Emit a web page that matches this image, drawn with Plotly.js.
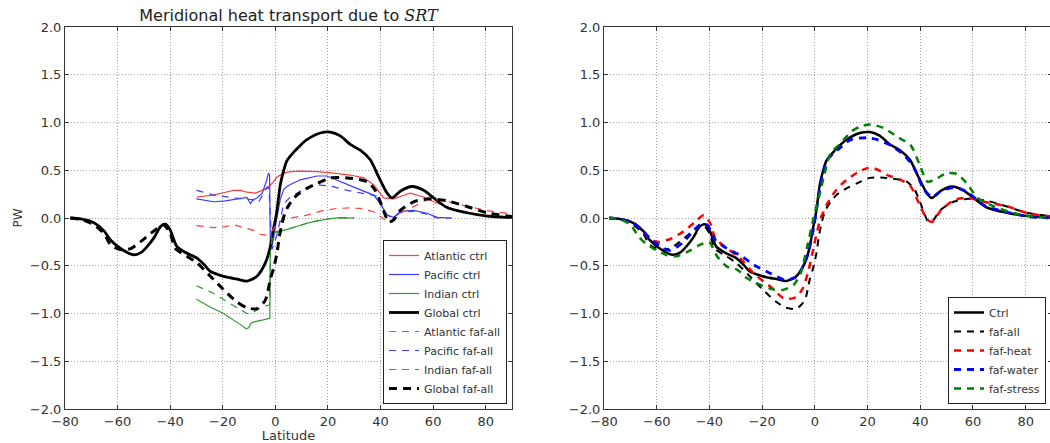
<!DOCTYPE html>
<html>
<head>
<meta charset="utf-8">
<script src="https://cdn.plot.ly/plotly-3.0.1.min.js"></script>
<style>
  html, body { margin: 0; padding: 0; overflow: hidden; background: #fff; }
  #chart { width: 1052px; height: 443px; }
</style>
</head>
<body>
<div id="chart"></div>
<script>
// ---------------- data ----------------
const globalCtrlLat = [-78,-74,-69,-65,-62.7,-58.3,-54,-51,-48.8,-46,-43.7,-41.8,-40,-37.4,-33.6,-29.8,-27,-24.7,-21,-18.4,-14.5,-10.8,-7,-3.8,-1.9,-0.8,0,0.6,1.9,3.2,4.4,7,9.5,12,17.1,20.9,24.7,28.5,32.3,36.1,39.3,42.5,44.4,47.5,52,56.4,60.2,65.3,72.9,80.5,90];
const globalCtrlPW  = [0,-0.01,-0.05,-0.14,-0.23,-0.33,-0.385,-0.36,-0.30,-0.2,-0.09,-0.065,-0.125,-0.30,-0.37,-0.42,-0.49,-0.56,-0.60,-0.62,-0.64,-0.66,-0.61,-0.47,-0.30,-0.12,-0.02,0.08,0.35,0.50,0.60,0.69,0.76,0.82,0.89,0.90,0.86,0.77,0.71,0.61,0.43,0.26,0.21,0.28,0.33,0.29,0.21,0.11,0.055,0.02,0.003];

const globalFafLat = [-78,-74,-69,-65,-62.7,-59,-55,-51.3,-46.4,-42.6,-40,-38,-33.6,-29.8,-24.7,-19.7,-14.6,-10.8,-7,-3.8,-1.9,-0.6,0.6,1.5,2.5,3.5,4.4,6,8.2,12,15.8,20.9,27.3,34.9,38,40.6,43.1,45,47.5,52.6,57.7,65.3,72.9,80.5,90];
const globalFafPW  = [0,-0.015,-0.07,-0.17,-0.28,-0.33,-0.32,-0.25,-0.14,-0.07,-0.16,-0.32,-0.40,-0.47,-0.61,-0.75,-0.88,-0.94,-0.95,-0.86,-0.64,-0.52,-0.37,-0.2,-0.06,0.04,0.10,0.17,0.24,0.31,0.36,0.42,0.42,0.38,0.29,0.12,-0.04,-0.02,0.08,0.17,0.20,0.18,0.12,0.055,0.015];

const atlCtrlLat = [-30,-26,-23.4,-19,-15.8,-13.3,-10.8,-7.6,-5.7,-3.2,-1,0.6,3.2,5.7,9.5,15.8,22.2,28.5,33.6,37.4,41.2,45,48,51.3,56.4,60.2,65,70,80,90];
const atlCtrlPW  = [0.22,0.23,0.24,0.27,0.29,0.29,0.27,0.26,0.28,0.31,0.37,0.43,0.47,0.485,0.49,0.485,0.47,0.45,0.42,0.35,0.21,0.20,0.23,0.26,0.22,0.17,0.12,0.07,0.03,0.01];

const pacCtrlLat = [-30,-26,-23.4,-19,-15.8,-10.8,-9.5,-8.5,-7,-5,-3.5,-2.6,-2.2,-1.9,-1.2,-0.6,0.6,1.9,3.2,4.4,5.7,9.5,12,15.8,19.6,24.7,31,37.4,39.9,42.5,45,47.5,52.6,57.7,61.5,67];
const pacCtrlPW  = [0.20,0.18,0.17,0.18,0.195,0.215,0.15,0.19,0.21,0.26,0.38,0.47,0.45,-0.33,-0.28,-0.2,0.01,0.20,0.30,0.33,0.35,0.40,0.415,0.44,0.44,0.38,0.31,0.24,0.15,0.03,0.007,0.07,0.08,0.05,0.007,0.0];

const indCtrlLat = [-30,-25,-19.7,-15,-12,-11.2,-10.1,-9.5,-8.5,-5,-3.2,-2.1,-1.95,-1.5,0.6,3,5.7,9,12,15,18.4,21,24.7,27,30];
const indCtrlPW  = [-0.85,-0.93,-1.0,-1.08,-1.14,-1.16,-1.15,-1.11,-1.09,-1.07,-1.06,-1.05,-0.30,-0.18,-0.14,-0.13,-0.11,-0.08,-0.055,-0.035,-0.015,-0.005,0.003,0.002,0.0];

const atlFafLat = [-30,-23.4,-19,-15.8,-13.3,-8.2,-5.7,-3.2,-1.9,0.6,3,5.7,12,18.4,23.4,28,32.3,37.4,41.8,44.4,47.5,52.6,57.7,61.5,66,72,80,90];
const atlFafPW  = [-0.08,-0.10,-0.09,-0.07,-0.09,-0.13,-0.17,-0.18,-0.16,-0.06,-0.02,0.0,0.03,0.08,0.10,0.105,0.10,0.065,-0.02,-0.04,0.05,0.12,0.19,0.19,0.17,0.13,0.08,0.04];

const pacFafLat = [-30,-23.4,-15.8,-10,-8.2,-6.5,-5,-3.8,-3,-2.4,-1.3,0.6,1.9,3.2,5.7,9.5,12,15.8,20.9,27.3,32.3,38.7,40.5,42.5,45,47.5,52.6,57.7,61.5,67];
const pacFafPW  = [0.29,0.24,0.21,0.2,0.19,0.16,0.24,0.30,0.33,0.30,-0.33,-0.18,0.0,0.15,0.22,0.28,0.32,0.345,0.335,0.29,0.265,0.23,0.13,0.03,0.0,0.06,0.07,0.04,0.0,0.0];

const indFafLat = [-30,-23.4,-15.8,-12,-10.8,-9,-7,-5,-3.2,-2.2,-1.8,-1,0.6,3,5.7,12,18.4,24.7,30];
const indFafPW  = [-0.71,-0.79,-0.92,-0.98,-1.0,-1.0,-0.96,-0.93,-0.92,-0.91,-0.30,-0.20,-0.15,-0.13,-0.11,-0.055,-0.015,0.003,0.0];

const heatLat = [-78,-74,-69,-65,-62.5,-59.3,-54.9,-49.8,-45.4,-42.2,-39.7,-37.8,-33.3,-28.3,-23.2,-16.8,-11.8,-8,-4.8,-2.3,-0.4,0,2.2,3.4,4.7,7.2,10,13.6,17,19.9,22.4,25,27.5,32.6,36.4,39.6,42.8,44.6,47.8,52.9,58,64.3,73.2,80.8,90];
const heatPW  = [0,-0.01,-0.05,-0.14,-0.23,-0.25,-0.22,-0.14,-0.04,0.03,-0.055,-0.21,-0.32,-0.42,-0.58,-0.72,-0.84,-0.84,-0.75,-0.54,-0.30,-0.25,0.0,0.07,0.15,0.26,0.35,0.43,0.49,0.52,0.52,0.49,0.45,0.40,0.33,0.15,-0.02,-0.04,0.08,0.19,0.21,0.17,0.12,0.05,0.015];

const waterLat = [-78,-74,-69,-65,-62.7,-60,-54.9,-49.8,-46,-43.5,-40.9,-37.8,-33.3,-28.3,-23.2,-16.8,-11.1,-6.7,-2.9,-0.4,1,2,3.2,4.7,8.5,13.6,19.9,23.7,28.8,33.8,37.6,41.4,44.6,47.8,52.9,58,64.3,73.2,80.8,90];
const waterPW  = [0,-0.01,-0.05,-0.14,-0.21,-0.27,-0.34,-0.25,-0.13,-0.07,-0.07,-0.23,-0.32,-0.39,-0.49,-0.58,-0.65,-0.61,-0.40,-0.09,0.15,0.32,0.47,0.61,0.71,0.82,0.84,0.82,0.76,0.66,0.53,0.30,0.22,0.28,0.32,0.27,0.13,0.06,0.015,0.0];

const stressLat = [-78,-74,-70,-66.7,-64,-61.2,-56.1,-52.3,-47.3,-43.5,-40.5,-39.7,-37.1,-33.3,-29.5,-25.7,-20.6,-15.6,-11.8,-8,-5.4,-2.9,-0.4,1,2.2,3.4,6,9.8,13.6,17.4,21.2,26.3,31.3,36.4,39.6,42.8,45.3,50.3,54.1,58,61.8,68.1,75.7,83.3,90];
const stressPW  = [0,-0.01,-0.07,-0.20,-0.27,-0.32,-0.39,-0.40,-0.34,-0.28,-0.25,-0.26,-0.40,-0.51,-0.54,-0.63,-0.70,-0.75,-0.75,-0.70,-0.58,-0.30,0.01,0.16,0.29,0.43,0.68,0.78,0.90,0.96,0.98,0.94,0.85,0.76,0.57,0.38,0.40,0.47,0.46,0.35,0.21,0.12,0.05,0.015,0.005];

const xTicks = [-80,-60,-40,-20,0,20,40,60,80];
const yTicks = [-2.0,-1.5,-1.0,-0.5,0.0,0.5,1.0,1.5,2.0];

// ---------------- styling ----------------
const W = 1052, H = 443;
const DASH = '7px,6px';
const thinRed = '#ff3b3b', thinBlue = '#3b3bff', thinGreen = '#2f9a2f';

function tr(x, y, name, color, width, dash, xa, ya, legend, shape) {
  return {
    x: x, y: y, name: name, type: 'scatter', mode: 'lines',
    xaxis: xa, yaxis: ya, legend: legend,
    line: { color: color, width: width, dash: dash || 'solid', shape: shape || 'linear', smoothing: 0.7 },
    hoverinfo: 'skip'
  };
}

const traces = [
  tr(atlCtrlLat, atlCtrlPW, 'Atlantic ctrl', thinRed, 1.2, 'solid', 'x', 'y', 'legend'),
  tr(pacCtrlLat, pacCtrlPW, 'Pacific ctrl', thinBlue, 1.2, 'solid', 'x', 'y', 'legend'),
  tr(indCtrlLat, indCtrlPW, 'Indian ctrl', thinGreen, 1.2, 'solid', 'x', 'y', 'legend'),
  tr(globalCtrlLat, globalCtrlPW, 'Global ctrl', '#000', 2.8, 'solid', 'x', 'y', 'legend', 'spline'),
  tr(atlFafLat, atlFafPW, 'Atlantic faf-all', thinRed, 1.2, DASH, 'x', 'y', 'legend'),
  tr(pacFafLat, pacFafPW, 'Pacific faf-all', thinBlue, 1.2, DASH, 'x', 'y', 'legend'),
  tr(indFafLat, indFafPW, 'Indian faf-all', thinGreen, 1.2, DASH, 'x', 'y', 'legend'),
  tr(globalFafLat, globalFafPW, 'Global faf-all', '#000', 3, '8px,6px', 'x', 'y', 'legend', 'spline'),

  tr(globalCtrlLat, globalCtrlPW, 'Ctrl', '#000', 2.5, 'solid', 'x2', 'y2', 'legend2', 'spline'),
  tr(globalFafLat, globalFafPW, 'faf-all', '#000', 2, DASH, 'x2', 'y2', 'legend2', 'spline'),
  tr(heatLat, heatPW, 'faf-heat', '#ff0000', 2.5, DASH, 'x2', 'y2', 'legend2', 'spline'),
  tr(waterLat, waterPW, 'faf-water', '#0000ff', 2.8, DASH, 'x2', 'y2', 'legend2', 'spline'),
  tr(stressLat, stressPW, 'faf-stress', '#008000', 2.5, DASH, 'x2', 'y2', 'legend2', 'spline')
];

const font = { family: 'DejaVu Sans, sans-serif', size: 13, color: '#333' };

function xAxis(domain, anchor, title) {
  return {
    domain: domain, anchor: anchor, range: [-80, 90],
    tickvals: xTicks, ticktext: xTicks.map(v => v < 0 ? '\u2212' + Math.abs(v) : String(v)),
    ticks: 'inside', ticklen: 4, tickcolor: '#333', tickwidth: 1,
    showline: true, linecolor: '#333', linewidth: 1, mirror: 'ticks',
    showgrid: true, gridcolor: '#a0a0a0', gridwidth: 1, griddash: '1px,2px',
    zeroline: false, tickfont: font, fixedrange: true,
    title: title ? { text: title, font: font, standoff: 4 } : undefined
  };
}
function yAxis(anchor, title) {
  return {
    domain: [0, 1], anchor: anchor, range: [-2, 2],
    tickvals: yTicks, ticktext: yTicks.map(v => (v < 0 ? '\u2212' : '') + Math.abs(v).toFixed(1)),
    ticks: 'inside', ticklen: 4, tickcolor: '#333', tickwidth: 1,
    showline: true, linecolor: '#333', linewidth: 1, mirror: 'ticks',
    showgrid: true, gridcolor: '#a0a0a0', gridwidth: 1, griddash: '1px,2px',
    zeroline: false, tickfont: font, fixedrange: true,
    title: title ? { text: title, font: { family: font.family, size: 12, color: '#333' }, standoff: 4 } : undefined
  };
}

const legendStyle = {
  xanchor: 'right', yanchor: 'bottom', y: 5 / 382,
  bgcolor: '#ffffff', bordercolor: '#222', borderwidth: 1,
  font: { family: 'DejaVu Sans, sans-serif', size: 11, color: '#333' },
  tracegroupgap: 0, itemwidth: 30, itemclick: false, itemdoubleclick: false
};

const layout = {
  width: W, height: H,
  margin: { l: 0, r: 0, t: 27, b: 34 },
  paper_bgcolor: '#fff', plot_bgcolor: '#fff',
  showlegend: true,
  title: {
    text: 'Meridional heat transport due to <span style="font-family:\'DejaVu Serif\', serif"><i>SRT</i></span>',
    x: 288.5 / W, xanchor: 'center', xref: 'container',
    y: 1 - 15 / H, yanchor: 'middle', yref: 'container',
    font: { family: 'DejaVu Sans, sans-serif', size: 16, color: '#222' }
  },
  xaxis: xAxis([65 / W, 512 / W], 'y', 'Latitude'),
  yaxis: yAxis('x', 'PW'),
  xaxis2: xAxis([604 / W, 1], 'y2', null),
  yaxis2: yAxis('x2', null),
  legend: Object.assign({}, legendStyle, { x: 507 / W }),
  legend2: Object.assign({}, legendStyle, { x: 1046 / W })
};

Plotly.newPlot('chart', traces, layout, { displayModeBar: false, staticPlot: true });
</script>
</body>
</html>
